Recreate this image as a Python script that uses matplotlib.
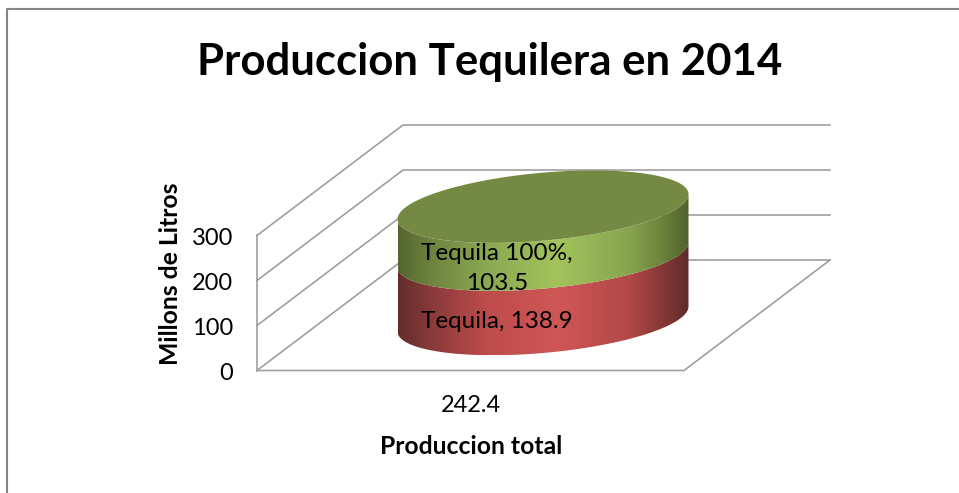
#3D style cylinder chart of tequila production
import numpy as np
import matplotlib
matplotlib.use('Agg')
import matplotlib.pyplot as plt
from matplotlib.colors import LinearSegmentedColormap
from matplotlib.patches import Polygon

plt.rcParams['font.family'] = ['Lato', 'DejaVu Sans']

title = 'Produccion Tequilera en 2014'
ylabel = 'Millons de Litros'
xlabel = 'Produccion total'
category = '242.4'
yticks = [0, 100, 200, 300]
names = ['Tequila', 'Tequila 100%']
values = [138.9, 103.5]

grid_color = '#9f9f9f'
frame_color = '#868686'

#Pixels per unit on the value axis, and where 0 sits
unit = 0.45
zero = 370.5

def vy(p):
    #pixel row to value axis
    return (zero - p) / unit

fig = plt.figure(figsize=(9.59, 4.93), dpi=100)
ax = fig.add_axes([0, 0, 1, 1])
ax.axis('off')

#Chart frame, open on the right and at the bottom
ax.plot([7, 7, 959], [vy(493), vy(9), vy(9)], color=frame_color, lw=1.5)

#Walls and floor
depth_x = 146
depth_y = vy(260)
left = 257
right = 684
for v in yticks:
    ax.plot([left, left + depth_x, 830], [v, v + depth_y, v + depth_y], color=grid_color, lw=1.2, zorder=1)
ax.plot([left, left], [0, yticks[-1]], color=grid_color, lw=1.2, zorder=1)
ax.plot([left, right, right + depth_x], [0, 0, depth_y], color=grid_color, lw=1.2, zorder=1)

#Cylinder, stacked from the values
cx = 543
a = 145.5
b = 34 / unit
tilt = 12.5 / unit
stretch = 1.03
base = vy(319)

def front(v):
    t = np.linspace(0, np.pi, 120)
    return cx + a * np.cos(t), base + v * stretch + tilt * np.cos(t) - b * np.sin(t)

def shade(cols):
    return LinearSegmentedColormap.from_list('s', list(zip([0, 0.12, 0.3, 0.55, 0.8, 0.92, 1], cols)))

maps = [shade(['#642d2d', '#8a3b3a', '#bc4c4b', '#cf5756', '#b04847', '#823736', '#5e2b2b']),
        shade(['#53662f', '#6f853f', '#8aa852', '#a3c35d', '#86a44f', '#6a8039', '#4f622e'])]

grad = np.linspace(0, 1, 256).reshape(1, -1)
bottom = 0
for val, cmap in zip(values, maps):
    x0, y0 = front(bottom)
    x1, y1 = front(bottom + val)
    pts = np.column_stack([np.r_[x1, x0[::-1]], np.r_[y1, y0[::-1]]])
    im = ax.imshow(grad, cmap=cmap, aspect='auto', zorder=2, interpolation='bilinear',
                   extent=[cx - a, cx + a, pts[:, 1].min(), pts[:, 1].max()])
    im.set_clip_path(Polygon(pts, closed=True, transform=ax.transData))
    bottom += val

#Top of the cylinder
t = np.linspace(0, 2 * np.pi, 240)
ax.fill(cx + a * np.cos(t), base + bottom * stretch + tilt * np.cos(t) - b * np.sin(t), color='#748a42', lw=0, zorder=3)

ax.set_xlim(0, 959)
ax.set_ylim(vy(493), vy(0))

#Text
ax.text(490, vy(62), title, fontsize=31.5, fontweight='bold', ha='center', va='center')
for v in yticks:
    ax.text(233, v - 7.5, str(v), fontsize=17, ha='right', va='center')
ax.text(170, vy(274), ylabel, fontsize=17.8, fontweight='bold', rotation=90, ha='center', va='center')
ax.text(470.5, vy(406), category, fontsize=17, ha='center', va='center')
ax.text(471, vy(447), xlabel, fontsize=17.8, fontweight='bold', ha='center', va='center')
ax.text(497, vy(253.5), f'{names[1]},', fontsize=17.5, ha='center', va='center', zorder=4)
ax.text(497, vy(284), f'{values[1]}', fontsize=17.5, ha='center', va='center', zorder=4)
ax.text(497, vy(322), f'{names[0]}, {values[0]}', fontsize=17.5, ha='center', va='center', zorder=4)

fig.savefig('out.png', dpi=100)
